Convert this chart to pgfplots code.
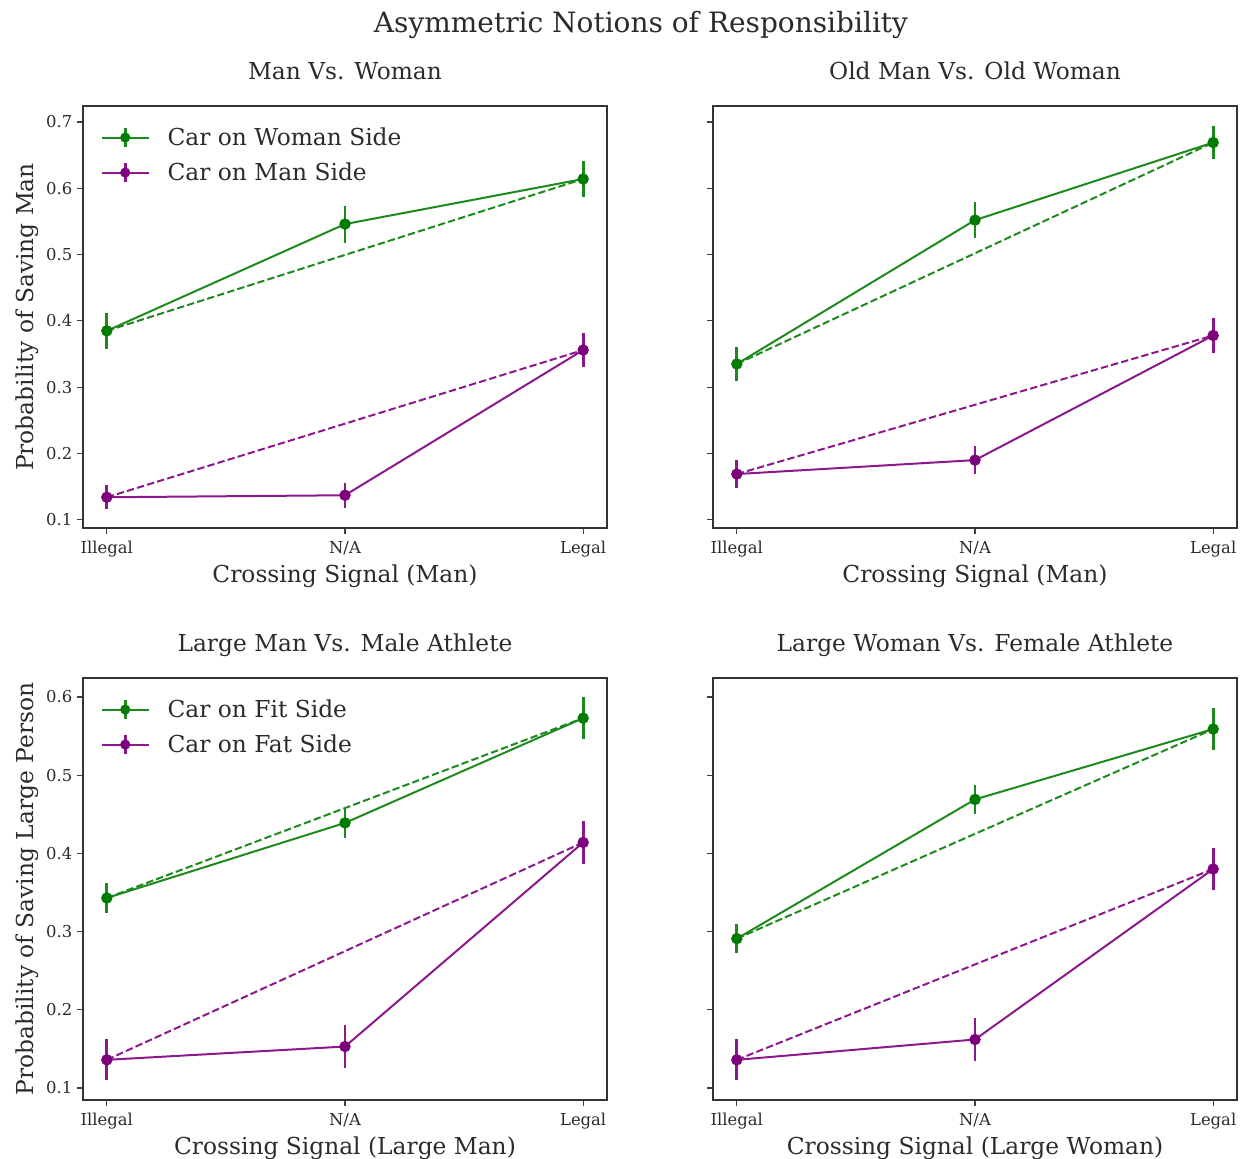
\documentclass[border=0pt]{standalone}
\usepackage{pgfplots}
\pgfplotsset{compat=1.18}
\usepackage{fontspec}
\setmainfont{DejaVu Serif}
\definecolor{gline}{RGB}{30,138,30}
\definecolor{gmark}{RGB}{0,125,0}
\definecolor{pline}{RGB}{140,25,140}
\definecolor{pmark}{RGB}{125,0,125}
\definecolor{txt}{gray}{0.17}

\pgfplotsset{
  panel/.style={
    scale only axis, width=393pt, height=316.5pt, anchor=north west,
    xmin=-0.1, xmax=2.1, xtick={0,1,2}, xticklabels={Illegal,N/A,Legal},
    tick align=outside, tick pos=left, major tick length=4.5pt,
    every tick/.style={black!75, line width=0.8pt},
    axis line style={black!80, line width=0.9pt},
    ticklabel style={font=\fontsize{12.3}{14}\selectfont, text=txt},
    xticklabel style={yshift=-2pt},
    label style={font=\fontsize{17.5}{21}\selectfont, text=txt},
    title style={font=\fontsize{17.5}{21}\selectfont, text=txt, at={(axis description cs:0.5,1)}, anchor=base, yshift=14pt},
    xlabel style={at={(axis description cs:0.5,0)}, anchor=base, yshift=-40.5pt},
    ylabel style={at={(axis description cs:-0.0954,0.5)}, anchor=base},
    legend style={at={(axis description cs:0.026,0.962)}, anchor=north west, draw=none, fill=none,
      font=\fontsize{17.5}{21}\selectfont, text=txt, row sep=7.5pt,
      /tikz/every odd column/.append style={column sep=11.5pt}},
    legend cell align=left,
    legend image code/.code={
      \draw[##1, mark=none, line width=2pt] (17.5pt,-7pt) -- (17.5pt,7pt);
      \draw[mark repeat=2, mark phase=2, mark size=3pt, ##1] plot coordinates {(0pt,0pt)(17.5pt,0pt)(35pt,0pt)};
    },
  },
  toprow/.style={ymin=0.0876, ymax=0.7241, ytick={0.1,0.2,0.3,0.4,0.5,0.6,0.7}},
  botrow/.style={ymin=0.0846, ymax=0.6243, ytick={0.1,0.2,0.3,0.4,0.5,0.6}},
  gser/.style={color=gline, line width=1.5pt, mark=*, mark size=3.5pt,
    mark options={solid, fill=gmark, draw=gmark},
    error bars/.cd, y dir=both, y explicit, error mark=none,
    error bar style={line width=2pt, gline}},
  pser/.style={color=pline, line width=1.5pt, mark=*, mark size=3.5pt,
    mark options={solid, fill=pmark, draw=pmark},
    error bars/.cd, y dir=both, y explicit, error mark=none,
    error bar style={line width=2pt, pline}},
  gdash/.style={gline, line width=1.5pt, dash pattern=on 5.5pt off 2.4pt, forget plot, mark=none},
  pdash/.style={pline, line width=1.5pt, dash pattern=on 5.5pt off 2.4pt, forget plot, mark=none},
}

\begin{document}
\begin{tikzpicture}
\useasboundingbox (0,0) rectangle (932.25pt,-868.5pt);
\node[font=\fontsize{21}{25}\selectfont, text=txt, anchor=base] at (480.75pt,-24pt) {Asymmetric Notions of Responsibility};

% Panel 1
\begin{axis}[panel, toprow, at={(62.25pt,-79.5pt)},
  yticklabels={0.1,0.2,0.3,0.4,0.5,0.6,0.7},
  title={Man Vs. Woman}, xlabel={Crossing Signal (Man)}, ylabel={Probability of Saving Man}]
\addplot[gdash] coordinates {(0,0.385) (2,0.614)};
\addplot[pdash] coordinates {(0,0.134) (2,0.356)};
\addplot[gser] coordinates {(0,0.385) +- (0,0.027) (1,0.546) +- (0,0.028) (2,0.614) +- (0,0.027)};
\addlegendentry{Car on Woman Side}
\addplot[pser] coordinates {(0,0.134) +- (0,0.018) (1,0.137) +- (0,0.019) (2,0.356) +- (0,0.026)};
\addlegendentry{Car on Man Side}
\end{axis}

% Panel 2
\begin{axis}[panel, toprow, at={(534.75pt,-79.5pt)}, yticklabels={},
  title={Old Man Vs. Old Woman}, xlabel={Crossing Signal (Man)}]
\addplot[gdash] coordinates {(0,0.335) (2,0.669)};
\addplot[pdash] coordinates {(0,0.169) (2,0.378)};
\addplot[gser] coordinates {(0,0.335) +- (0,0.026) (1,0.552) +- (0,0.027) (2,0.669) +- (0,0.025)};
\addplot[pser] coordinates {(0,0.169) +- (0,0.021) (1,0.190) +- (0,0.021) (2,0.378) +- (0,0.026)};
\end{axis}

% Panel 3
\begin{axis}[panel, botrow, at={(62.25pt,-508.5pt)},
  yticklabels={0.1,0.2,0.3,0.4,0.5,0.6},
  title={Large Man Vs. Male Athlete}, xlabel={Crossing Signal (Large Man)}, ylabel={Probability of Saving Large Person}]
\addplot[gdash] coordinates {(0,0.343) (2,0.573)};
\addplot[pdash] coordinates {(0,0.136) (2,0.414)};
\addplot[gser] coordinates {(0,0.343) +- (0,0.019) (1,0.439) +- (0,0.019) (2,0.573) +- (0,0.027)};
\addlegendentry{Car on Fit Side}
\addplot[pser] coordinates {(0,0.136) +- (0,0.026) (1,0.153) +- (0,0.027) (2,0.414) +- (0,0.027)};
\addlegendentry{Car on Fat Side}
\end{axis}

% Panel 4
\begin{axis}[panel, botrow, at={(534.75pt,-508.5pt)}, yticklabels={},
  title={Large Woman Vs. Female Athlete}, xlabel={Crossing Signal (Large Woman)}]
\addplot[gdash] coordinates {(0,0.291) (2,0.559)};
\addplot[pdash] coordinates {(0,0.136) (2,0.380)};
\addplot[gser] coordinates {(0,0.291) +- (0,0.019) (1,0.469) +- (0,0.019) (2,0.559) +- (0,0.027)};
\addplot[pser] coordinates {(0,0.136) +- (0,0.026) (1,0.162) +- (0,0.027) (2,0.380) +- (0,0.027)};
\end{axis}
\end{tikzpicture}
\end{document}
